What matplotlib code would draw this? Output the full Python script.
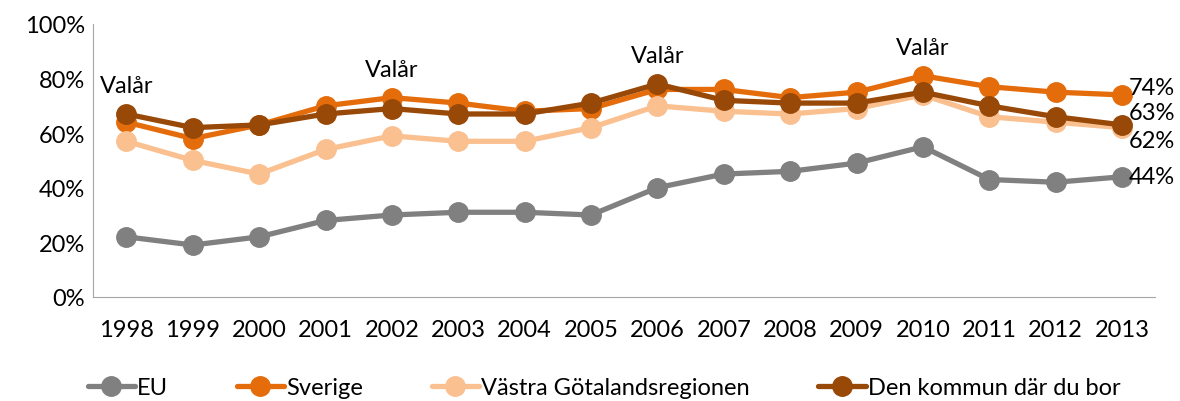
import matplotlib
matplotlib.use("Agg")
import matplotlib.pyplot as plt
from matplotlib.ticker import FuncFormatter

plt.rcParams['font.family'] = ['Lato', 'DejaVu Sans']

years = list(range(1998, 2014))
eu = [22, 19, 22, 28, 30, 31, 31, 30, 40, 45, 46, 49, 55, 43, 42, 44]
sverige = [64, 58, 63, 70, 73, 71, 68, 69, 76, 76, 73, 75, 81, 77, 75, 74]
vgr = [57, 50, 45, 54, 59, 57, 57, 62, 70, 68, 67, 69, 74, 66, 64, 62]
kommun = [67, 62, 63, 67, 69, 67, 67, 71, 78, 72, 71, 71, 75, 70, 66, 63]

series = [("EU", eu, "#808080"),
          ("Sverige", sverige, "#E46C0A"),
          ("Västra Götalandsregionen", vgr, "#FAC090"),
          ("Den kommun där du bor", kommun, "#984807")]

valar = [1998, 2002, 2006, 2010]
fs = 17

fig = plt.figure(figsize=(11.8, 4.02), dpi=100)
ax = fig.add_axes([0.079, 0.259, 0.9, 0.679])

for name, vals, col in series:
    ax.plot(years, vals, color=col, lw=3.8, marker="o", ms=14, label=name,
            solid_capstyle="round")

# "Valår" above the top point of each election year
for y in valar:
    i = years.index(y)
    top = max(s[1][i] for s in series)
    ax.annotate("Valår", (y, top), xytext=(0, 13), textcoords="offset points",
                ha="center", va="bottom", fontsize=fs)

# end labels
ends = [(sverige, 5), (kommun, 9), (vgr, -9), (eu, 0)]
for vals, dy in ends:
    ax.annotate(f"{vals[-1]}%", (years[-1], vals[-1]), xytext=(5, dy),
                textcoords="offset points", ha="left", va="center", fontsize=fs)

ax.set_xlim(1997.5, 2013.5)
ax.set_ylim(0, 100)
ax.set_xticks(years)
ax.set_yticks(range(0, 101, 20))
ax.yaxis.set_major_formatter(FuncFormatter(lambda v, p: f"{int(v)}%"))
ax.tick_params(length=0, labelsize=fs)
ax.tick_params(axis="x", pad=16)
ax.tick_params(axis="y", pad=6)
for s in ["top", "right"]:
    ax.spines[s].set_visible(False)
for s in ["left", "bottom"]:
    ax.spines[s].set_color("#A6A6A6")

fig.legend(loc="lower center", ncol=4, frameon=False, fontsize=fs,
           bbox_to_anchor=(0.512, -0.045), handlelength=2.0, columnspacing=2.9,
           handletextpad=0.1)

fig.savefig("out.png", dpi=100)
